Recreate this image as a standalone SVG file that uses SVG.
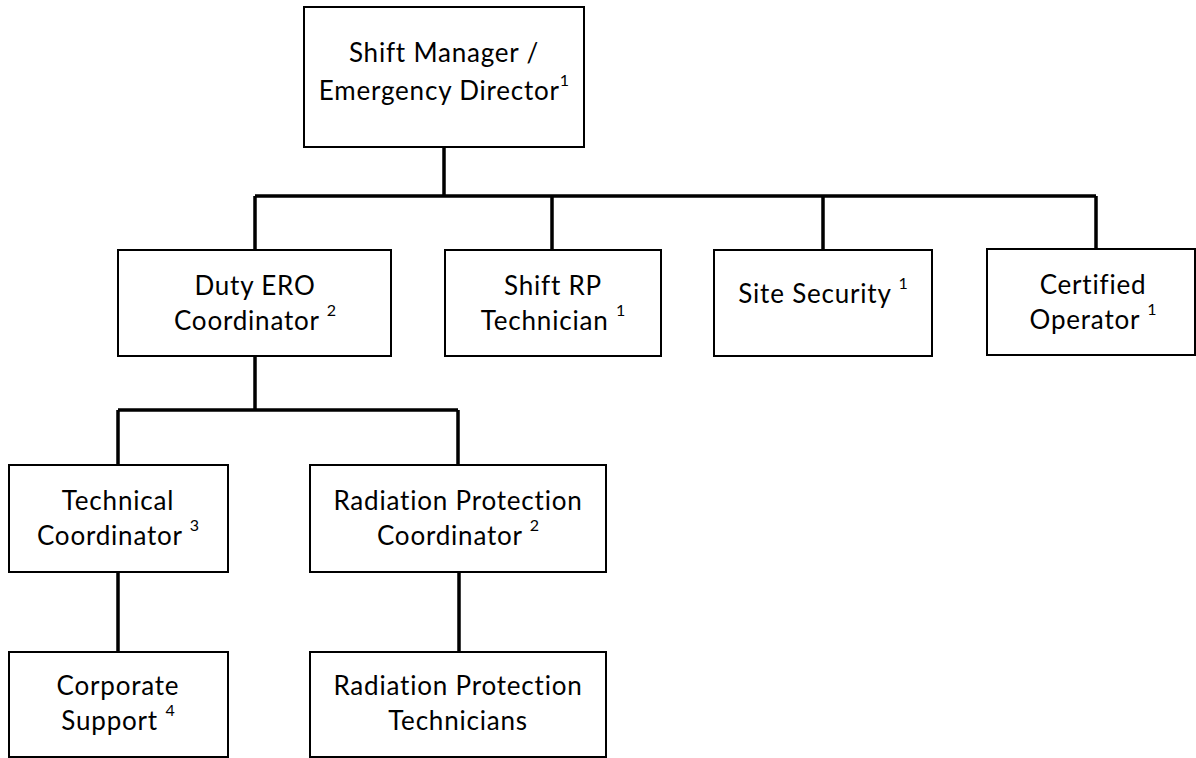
<svg xmlns="http://www.w3.org/2000/svg" width="1196" height="758" viewBox="0 0 1196 758">
<style>
.box{fill:#fff;stroke:#000;stroke-width:2}
.t{font-family:Lato,"Open Sans","Liberation Sans",sans-serif;font-size:26px;letter-spacing:0.8px;font-variant-ligatures:none;fill:#000;text-anchor:middle}
.s{font-size:16px;letter-spacing:0}
.c{stroke:#000;stroke-width:3.5;fill:none}
</style>
<rect x="0" y="0" width="1196" height="758" fill="#fff"/>
<g id="connectors">
<path class="c" d="M444 147V196M255 196H1096M255 196V250M552 196V250M823 196V250M1096 196V249"/>
<path class="c" d="M255 356V410M118 410H458M118 410V465M458 410V465"/>
<path class="c" d="M118 572V652M459 572V652"/>
</g>
<g id="shift-manager">
<rect class="box" x="304" y="7" width="280" height="140"/>
<text class="t" x="444" y="62">Shift Manager /</text>
<text class="t" x="444" y="100">Emergency Director<tspan class="s" dy="-14">1</tspan></text>
</g>
<g id="duty-ero">
<rect class="box" x="118" y="250" width="273" height="106"/>
<text class="t" x="255" y="295">Duty ERO</text>
<text class="t" x="255" y="330">Coordinator <tspan class="s" dy="-14">2</tspan></text>
</g>
<g id="shift-rp">
<rect class="box" x="445" y="250" width="216" height="106"/>
<text class="t" x="553" y="295">Shift RP</text>
<text class="t" x="553" y="330">Technician <tspan class="s" dy="-14">1</tspan></text>
</g>
<g id="site-security">
<rect class="box" x="714" y="250" width="218" height="106"/>
<text class="t" x="823" y="303">Site Security <tspan class="s" dy="-14">1</tspan></text>
</g>
<g id="certified-operator">
<rect class="box" x="987" y="249" width="208" height="106"/>
<text class="t" x="1093" y="294">Certified</text>
<text class="t" x="1093" y="329">Operator <tspan class="s" dy="-14">1</tspan></text>
</g>
<g id="technical-coordinator">
<rect class="box" x="9" y="465" width="219" height="107"/>
<text class="t" x="118" y="510">Technical</text>
<text class="t" x="118" y="545">Coordinator <tspan class="s" dy="-14">3</tspan></text>
</g>
<g id="rp-coordinator">
<rect class="box" x="310" y="465" width="296" height="107"/>
<text class="t" x="458" y="510">Radiation Protection</text>
<text class="t" x="458" y="545">Coordinator <tspan class="s" dy="-14">2</tspan></text>
</g>
<g id="corporate-support">
<rect class="box" x="9" y="652" width="219" height="105"/>
<text class="t" x="118" y="695">Corporate</text>
<text class="t" x="118" y="730">Support <tspan class="s" dy="-14">4</tspan></text>
</g>
<g id="rp-technicians">
<rect class="box" x="310" y="652" width="296" height="105"/>
<text class="t" x="458" y="695">Radiation Protection</text>
<text class="t" x="458" y="730">Technicians</text>
</g>
</svg>
